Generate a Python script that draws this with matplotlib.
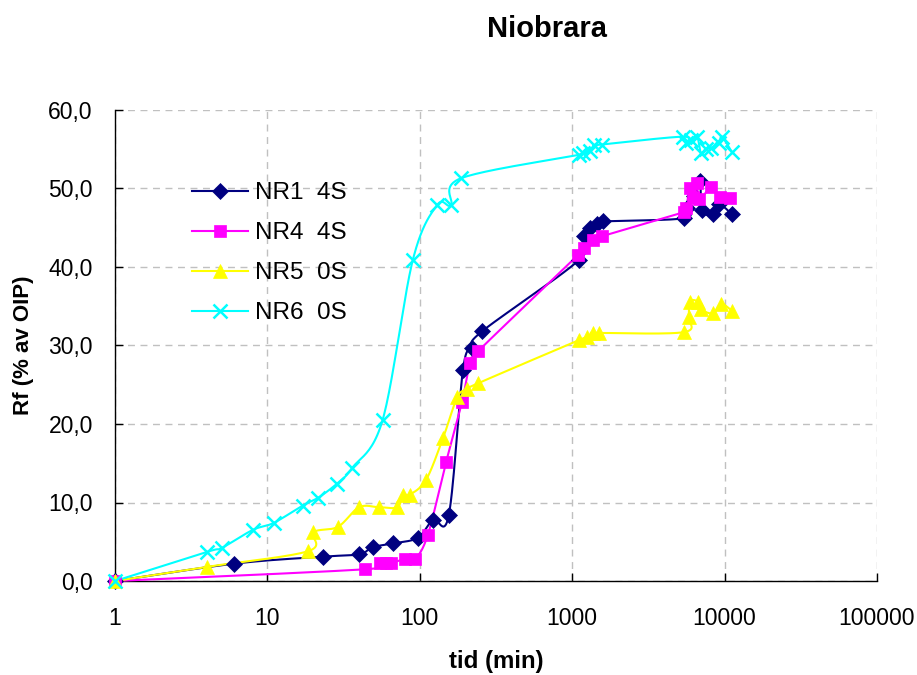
import numpy as np
import matplotlib
matplotlib.use('Agg')
import matplotlib.pyplot as plt
from matplotlib.lines import Line2D
from matplotlib.ticker import FixedLocator, FuncFormatter

plt.rcParams['font.family'] = ['Liberation Sans', 'DejaVu Sans']

# tid (min) / Rf (% av OIP) per core
nr1_t = [1, 6, 23, 40, 49, 67, 97, 122, 155, 192, 220, 256,
         1110, 1200, 1300, 1450, 1600,
         5400, 5700, 6300, 6900, 7100, 8400, 9200, 11200]
nr1_rf = [0.0, 2.2, 3.1, 3.4, 4.3, 4.8, 5.5, 7.8, 8.4, 26.9, 29.7, 31.8,
          40.9, 43.9, 45.0, 45.5, 45.8,
          46.2, 47.5, 49.0, 51.0, 47.2, 46.7, 48.0, 46.7]

nr4_t = [1, 44, 55, 60, 65, 80, 93, 113, 149, 189, 214, 242,
         1090, 1200, 1370, 1560,
         5400, 5600, 5900, 6200, 6600, 6800, 8200, 9300, 10800]
nr4_rf = [0.0, 1.5, 2.3, 2.3, 2.3, 2.8, 2.8, 5.9, 15.2, 22.8, 27.8, 29.3,
          41.5, 42.4, 43.4, 43.9,
          47.0, 47.5, 50.0, 48.9, 50.7, 48.6, 50.2, 48.9, 48.8]

nr5_t = [1, 4, 18.5, 20, 29, 40, 54, 71, 78, 86, 110, 142, 176, 203, 242,
         1110, 1250, 1360, 1500,
         5400, 5800, 5900, 6700, 7000, 8400, 9500, 11200]
nr5_rf = [0.0, 1.8, 3.8, 6.2, 6.9, 9.4, 9.4, 9.4, 11.0, 11.0, 12.9, 18.2,
          23.4, 24.4, 25.2,
          30.7, 31.1, 31.6, 31.6,
          31.7, 33.6, 35.6, 35.6, 34.6, 34.1, 35.3, 34.4]

nr6_t = [1, 4, 5, 8, 11, 17, 21.5, 28.6, 36, 57, 90, 130, 160, 186,
         1110, 1180, 1300, 1400, 1560,
         5300, 5600, 6000, 6600, 7000, 7500, 8200, 9200, 9600, 11200]
nr6_rf = [0.0, 3.7, 4.2, 6.5, 7.4, 9.6, 10.6, 12.4, 14.4, 20.5, 40.9, 47.9,
          47.9, 51.3,
          54.3, 54.5, 54.8, 55.5, 55.6,
          56.6, 55.8, 56.2, 56.6, 54.5, 55.0, 55.2, 55.8, 56.6, 54.6]

labels = ['NR1  4S', 'NR4  4S', 'NR5  0S', 'NR6  0S']
x_ticks = [1, 10, 100, 1000, 10000, 100000]
y_ticks = [0, 10, 20, 30, 40, 50, 60]


def smooth(t, v, n=24):
    # Catmull-Rom through the points in (log10 t, v) space, like Excel's smoothed lines
    u = np.log10(np.asarray(t, float))
    v = np.asarray(v, float)
    pu = np.concatenate([[u[0]], u, [u[-1]]])
    pv = np.concatenate([[v[0]], v, [v[-1]]])
    s = np.linspace(0, 1, n, endpoint=False)[:, None]
    outu, outv = [], []
    for i in range(1, len(pu) - 2):
        p = np.array([[pu[i - 1], pv[i - 1]], [pu[i], pv[i]],
                      [pu[i + 1], pv[i + 1]], [pu[i + 2], pv[i + 2]]])
        c1 = p[1] + (p[2] - p[0]) / 6
        c2 = p[2] - (p[3] - p[1]) / 6
        b = ((1 - s) ** 3) * p[1] + 3 * ((1 - s) ** 2) * s * c1 \
            + 3 * (1 - s) * s ** 2 * c2 + s ** 3 * p[2]
        outu.append(b[:, 0])
        outv.append(b[:, 1])
    outu.append([u[-1]])
    outv.append([v[-1]])
    return 10 ** np.concatenate(outu), np.concatenate(outv)


fig = plt.figure(figsize=(9.17, 6.75), dpi=100)
ax = fig.add_axes([115 / 917, 1 - 581 / 675, 762 / 917, 471 / 675])

series = [
    (nr1_t, nr1_rf, '#000080', 'D', 8),
    (nr4_t, nr4_rf, '#FF00FF', 's', 9),
    (nr5_t, nr5_rf, '#FFFF00', '^', 10),
    (nr6_t, nr6_rf, '#00FFFF', 'x', 10),
]

handles = []
for (t, v, col, mk, ms), lab in zip(series, labels):
    mew = 1.8 if mk == 'x' else 0.5
    st, sv = smooth(t, v)
    ax.plot(st, sv, color=col, lw=1.5, zorder=3, clip_on=False)
    ax.plot(t, v, ls='none', marker=mk, ms=ms, color=col,
            mec=col, mew=mew, zorder=4, clip_on=False)
    handles.append(Line2D([], [], color=col, lw=1.5, marker=mk, ms=ms,
                          mec=col, mew=mew))

ax.set_xscale('log')
ax.set_xlim(1, 100000)
ax.set_ylim(0, 60)
ax.xaxis.set_major_locator(FixedLocator(x_ticks))
ax.xaxis.set_minor_locator(FixedLocator([]))
ax.xaxis.set_major_formatter(FuncFormatter(lambda x, p: f'{x:.0f}'))
ax.yaxis.set_major_locator(FixedLocator(y_ticks))
ax.yaxis.set_major_formatter(FuncFormatter(lambda y, p: f'{y:.1f}'.replace('.', ',')))

ax.grid(True, which='major', color='#c0c0c0', ls=(0, (5, 4)), lw=1.0)
ax.set_axisbelow(True)
for side in ('top', 'right'):
    ax.spines[side].set_visible(False)
for side in ('left', 'bottom'):
    ax.spines[side].set_color('black')
    ax.spines[side].set_linewidth(1.0)

ax.tick_params(axis='both', direction='in', length=6, width=1, labelsize=16.5)
ax.tick_params(axis='x', pad=19)
ax.tick_params(axis='y', pad=16)

ax.set_xlabel('tid (min)', fontsize=17.3, fontweight='bold', labelpad=14)
ax.set_ylabel('Rf (% av OIP)', fontsize=16, fontweight='bold', labelpad=10)
fig.text(547 / 917, 1 - 29 / 675, 'Niobrara', fontsize=21, fontweight='bold',
         ha='center', va='center')

ax.legend(handles=handles, labels=labels, frameon=False, fontsize=17.5,
          loc='upper left', bbox_to_anchor=(192 / 917, 1 - 182 / 675),
          bbox_transform=fig.transFigure, handlelength=2.3,
          handletextpad=0.3, labelspacing=0.74, borderpad=0, borderaxespad=0)

fig.savefig('out.png', dpi=100)
